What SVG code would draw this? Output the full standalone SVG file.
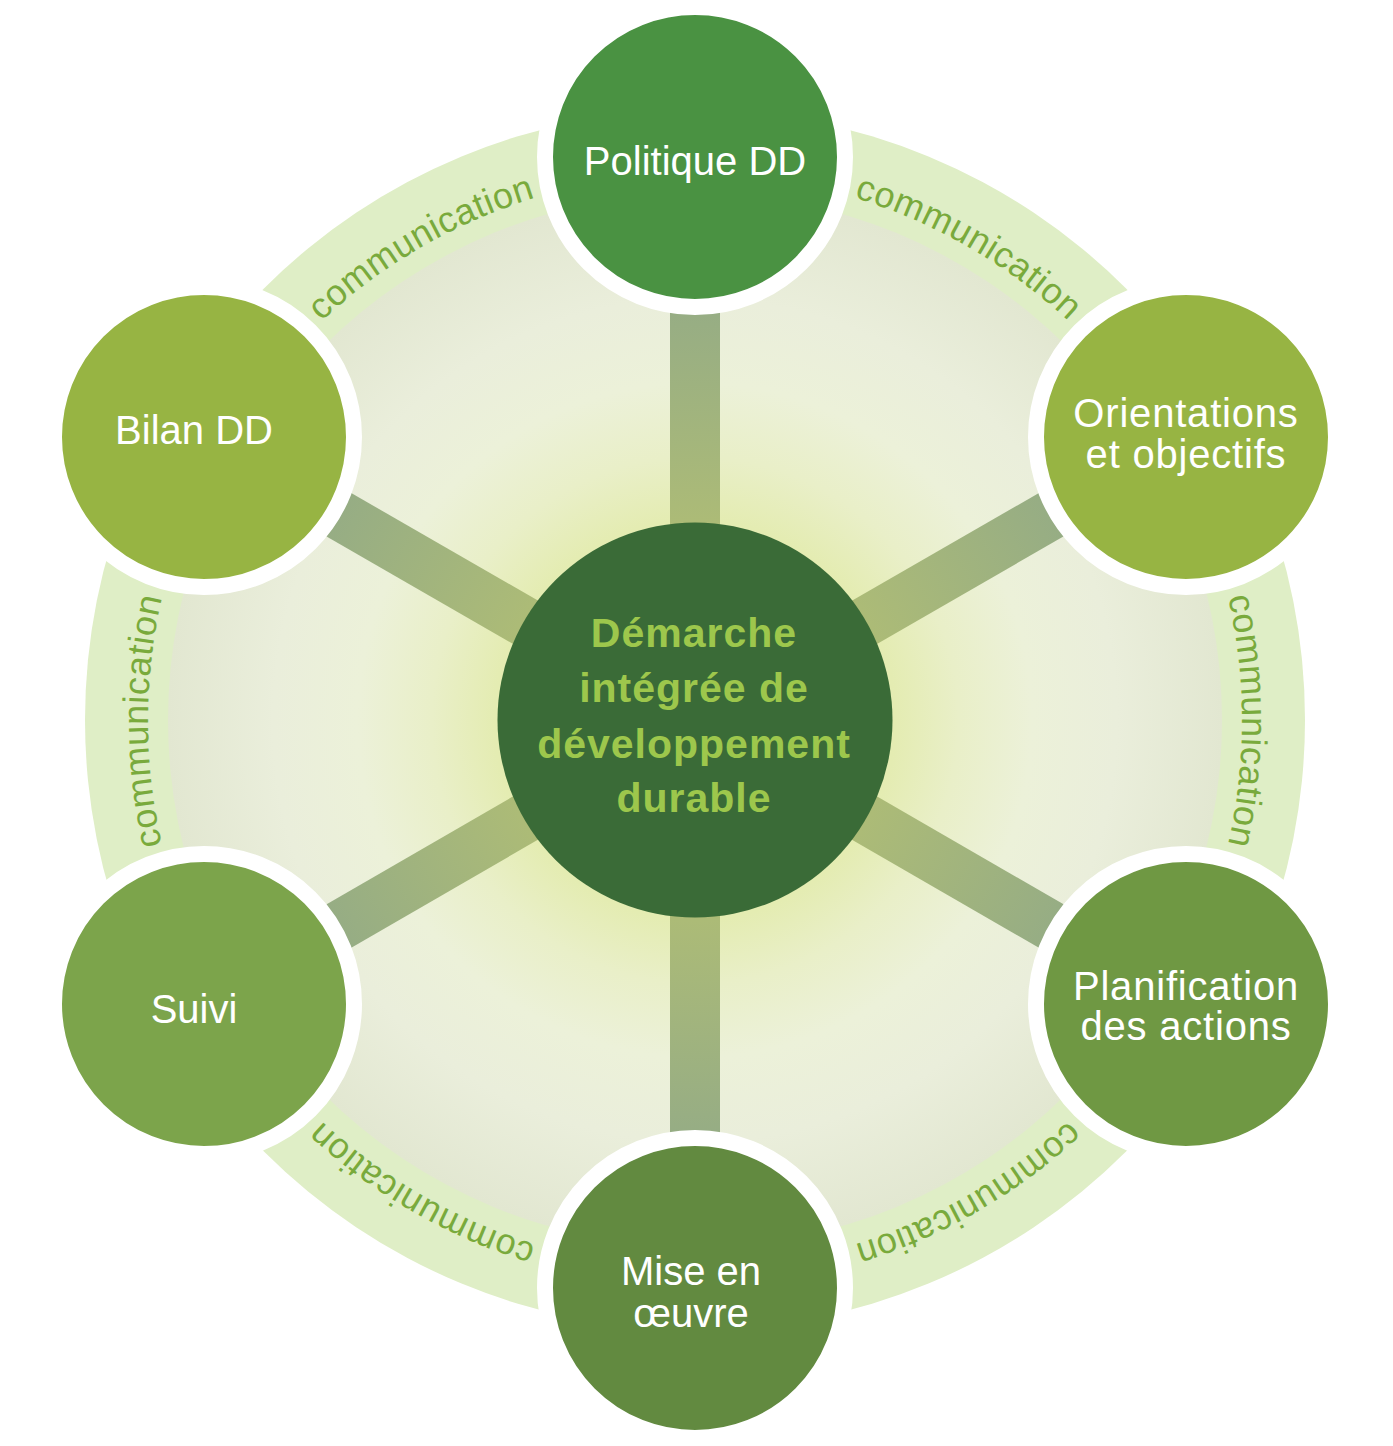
<svg xmlns="http://www.w3.org/2000/svg" xmlns:xlink="http://www.w3.org/1999/xlink" width="1393" height="1446" viewBox="0 0 1393 1446">
<style>
.node-ring{stroke:#ffffff;stroke-width:16}
.lbl{font-family:"Liberation Sans",Arial,sans-serif;font-size:40px;fill:#ffffff;text-anchor:middle}
.wide{letter-spacing:0.8px}
.ctr{font-family:"Liberation Sans",Arial,sans-serif;font-size:41px;font-weight:bold;fill:#9dc74c;text-anchor:middle;letter-spacing:1px}
.comm{font-family:"Liberation Sans",Arial,sans-serif;font-size:36px;fill:#79aa3c;letter-spacing:0.6px;text-anchor:middle}
.spoke{stroke:url(#spokeGrad);stroke-width:50;fill:none}
</style>
<defs>
<radialGradient id="discGrad" gradientUnits="userSpaceOnUse" cx="695" cy="720" r="527">
<stop offset="0" stop-color="#e2eba4"/>
<stop offset="0.38" stop-color="#e4ecb2"/>
<stop offset="0.5" stop-color="#e9efc8"/>
<stop offset="0.64" stop-color="#ecf1d9"/>
<stop offset="0.8" stop-color="#eaeedb"/>
<stop offset="1" stop-color="#e2e7d1"/>
</radialGradient>
<radialGradient id="spokeGrad" gradientUnits="userSpaceOnUse" cx="695" cy="720" r="566">
<stop offset="0.3" stop-color="#afbd75"/>
<stop offset="0.75" stop-color="#95ac85"/>
<stop offset="1" stop-color="#94ab86"/>
</radialGradient>
<path id="arc30" d="M553.4,192.6 A547,547 0 0 1 1223.4,579.4"/>
<path id="arc90" d="M1081.8,334.2 A547,547 0 0 1 1081.8,1107.8"/>
<path id="arc150" d="M1223.4,862.6 A547,547 0 0 1 553.4,1249.4"/>
<path id="arc210" d="M836.6,1249.4 A547,547 0 0 1 166.6,862.6"/>
<path id="arc270" d="M308.2,1107.8 A547,547 0 0 1 308.2,334.2"/>
<path id="arc330" d="M166.6,579.4 A547,547 0 0 1 836.6,192.6"/>
</defs>

<g id="background">
<circle cx="695" cy="720" r="610" fill="#dfeec6"/>
<circle cx="695" cy="720" r="527" fill="url(#discGrad)"/>
</g>

<g id="ring-labels">
<text class="comm"><textPath xlink:href="#arc30" href="#arc30" startOffset="50%">communication</textPath></text>
<text class="comm"><textPath xlink:href="#arc90" href="#arc90" startOffset="50%">communication</textPath></text>
<text class="comm"><textPath xlink:href="#arc150" href="#arc150" startOffset="50%">communication</textPath></text>
<text class="comm"><textPath xlink:href="#arc210" href="#arc210" startOffset="50%">communication</textPath></text>
<text class="comm"><textPath xlink:href="#arc270" href="#arc270" startOffset="50%">communication</textPath></text>
<text class="comm"><textPath xlink:href="#arc330" href="#arc330" startOffset="50%">communication</textPath></text>
</g>

<g id="connectors">
<line class="spoke" x1="695" y1="720" x2="695" y2="157"/>
<line class="spoke" x1="695" y1="720" x2="1186" y2="437"/>
<line class="spoke" x1="695" y1="720" x2="1186" y2="1004"/>
<line class="spoke" x1="695" y1="720" x2="695" y2="1288"/>
<line class="spoke" x1="695" y1="720" x2="204" y2="1004"/>
<line class="spoke" x1="695" y1="720" x2="204" y2="437"/>
</g>

<g id="node-center">
<circle cx="695" cy="720" r="197.5" fill="#3a6b37"/>
<text class="ctr" x="694" y="647">Démarche</text>
<text class="ctr" x="694" y="702">intégrée de</text>
<text class="ctr" x="694" y="758">développement</text>
<text class="ctr" x="694" y="812">durable</text>
</g>

<g id="node-politique">
<circle class="node-ring" cx="695" cy="157" r="150" fill="#4a9242"/>
<text class="lbl" x="695" y="175">Politique DD</text>
</g>

<g id="node-orientations">
<circle class="node-ring" cx="1186" cy="437" r="150" fill="#97b443"/>
<text class="lbl wide" x="1186" y="427">Orientations</text>
<text class="lbl wide" x="1186" y="468">et objectifs</text>
</g>

<g id="node-planification">
<circle class="node-ring" cx="1186" cy="1004" r="150" fill="#6f9843"/>
<text class="lbl wide" x="1186" y="1000">Planification</text>
<text class="lbl wide" x="1186" y="1040">des actions</text>
</g>

<g id="node-mise-en-oeuvre">
<circle class="node-ring" cx="695" cy="1288" r="150" fill="#628a40"/>
<text class="lbl" x="691" y="1285">Mise en</text>
<text class="lbl" x="691" y="1327">œuvre</text>
</g>

<g id="node-suivi">
<circle class="node-ring" cx="204" cy="1004" r="150" fill="#7ca44b"/>
<text class="lbl" x="194" y="1023">Suivi</text>
</g>

<g id="node-bilan">
<circle class="node-ring" cx="204" cy="437" r="150" fill="#97b443"/>
<text class="lbl" x="194" y="444">Bilan DD</text>
</g>
</svg>
